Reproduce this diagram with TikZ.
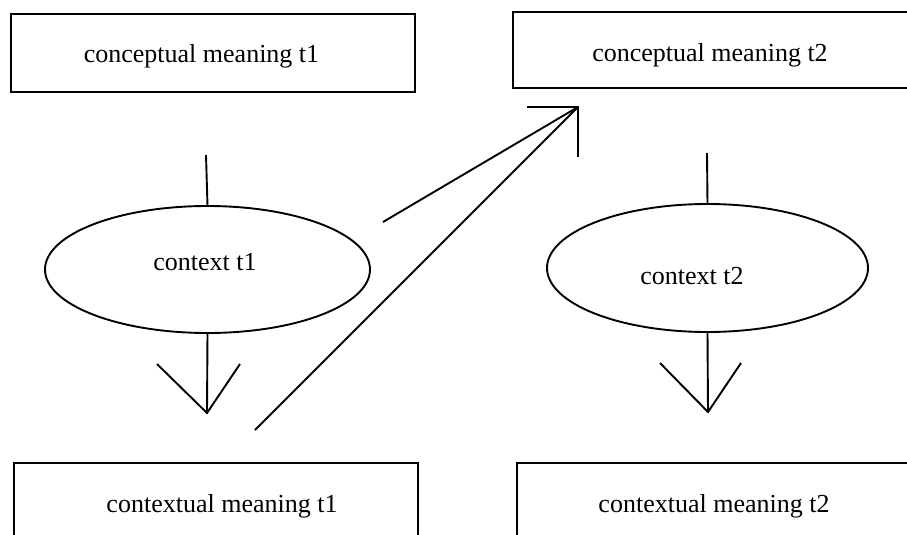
\documentclass[tikz,border=0pt]{standalone}
\usepackage{fontspec}
\setmainfont{Liberation Serif}
\usetikzlibrary{shapes.geometric}
\begin{document}
\begin{tikzpicture}[x=1pt,y=-1pt,
  box/.style={draw,line width=1.9pt,rectangle,inner sep=0pt,outer sep=0pt,anchor=north west},
  oval/.style={draw,line width=1.9pt,ellipse,inner sep=0pt,outer sep=0pt},
  lbl/.style={font=\fontsize{26}{31}\selectfont,anchor=base,inner sep=0pt},
  conn/.style={line width=1.9pt}]
\clip (0,0) rectangle (907,535);
\fill[white] (0,0) rectangle (907,535);
% boxes
\node[box,minimum width=404pt,minimum height=78pt] (cm1) at (11,14) {};
\node[box,minimum width=420pt,minimum height=76pt] (cm2) at (513,12) {};
\node[box,minimum width=404pt,minimum height=100pt] (xm1) at (14,463) {};
\node[box,minimum width=420pt,minimum height=100pt] (xm2) at (517,463) {};
% ellipses
\node[oval,minimum width=325pt,minimum height=127pt] (cx1) at (207.5,269.5) {};
\node[oval,minimum width=321pt,minimum height=128pt] (cx2) at (707.5,268) {};
% labels
\node[lbl] (t1) at (201.5,62.5) {conceptual meaning t1};
\node[lbl] (t2) at (710,61.5) {conceptual meaning t2};
\node[lbl] (t3) at (205,270) {context t1};
\node[lbl] (t4) at (692,284) {context t2};
\node[lbl] (t5) at (222,512) {contextual meaning t1};
\node[lbl] (t6) at (714,512) {contextual meaning t2};
% connector coordinates
\coordinate (up1) at (206,155);
\coordinate (up2) at (707,153);
\coordinate (tipA) at (207,413);
\coordinate (tipAl) at (157,364);
\coordinate (tipAr) at (240,364);
\coordinate (tipB) at (708,412);
\coordinate (tipBl) at (660,363);
\coordinate (tipBr) at (741,363);
\coordinate (tipC) at (578,107);
\coordinate (tipCh) at (527,107);
\coordinate (tipCv) at (578,157);
\coordinate (s1) at (383,222);
\coordinate (s2) at (255,430);
% connectors
\draw[conn] (up1) -- (cx1.north);
\draw[conn] (up2) -- (cx2.north);
\draw[conn] (cx1.south) -- (tipA);
\draw[conn] (tipAl) -- (tipA) -- (tipAr);
\draw[conn] (cx2.south) -- (tipB);
\draw[conn] (tipBl) -- (tipB) -- (tipBr);
\draw[conn] (s1) -- (tipC);
\draw[conn] (s2) -- (tipC);
\draw[conn] (tipCh) -- (tipC) -- (tipCv);
\end{tikzpicture}
\end{document}
